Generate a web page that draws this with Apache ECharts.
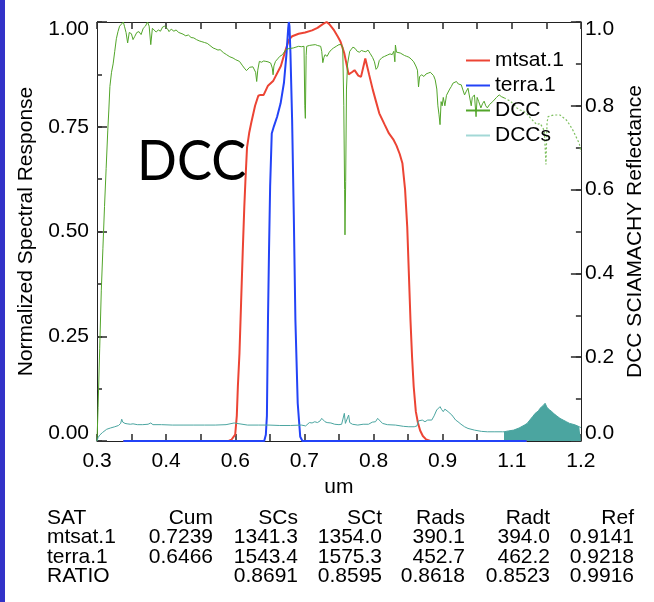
<!DOCTYPE html>
<html>
<head>
<meta charset="utf-8">
<script src="https://cdn.jsdelivr.net/npm/echarts@6.0.0/dist/echarts.min.js"></script>
<style>
html,body{margin:0;padding:0;background:#fff;}
#chart{width:654px;height:602px;}
</style>
</head>
<body>
<div id="chart"></div>
<script>
// ---------- DATA ----------
const seriesNames = ['mtsat.1', 'terra.1', 'DCC', 'DCCs'];

// x tick positions (um): 14 equal steps from 0.3 to 1.2; labels every other tick
const xTickValues = [0.3, 0.364286, 0.428571, 0.492857, 0.557143, 0.621429, 0.685714,
  0.75, 0.814286, 0.878571, 0.942857, 1.007143, 1.071429, 1.135714, 1.2];
const xLabelValues = [0.3, 0.428571, 0.557143, 0.685714, 0.814286, 0.942857, 1.071429, 1.2];
const leftTickValues = [0, 0.125, 0.25, 0.375, 0.5, 0.625, 0.75, 0.875, 1.0];
const leftLabelValues = [0, 0.25, 0.5, 0.75, 1.0];
const rightTickValues = [0, 0.1, 0.2, 0.3, 0.4, 0.5, 0.6, 0.7, 0.8, 0.9, 1.0];
const rightLabelValues = [0, 0.2, 0.4, 0.6, 0.8, 1.0];

const mtsatData = [
  [0.349,0],[0.545,0],[0.550,0.003],[0.553,0.006],[0.557,0.015],[0.560,0.06],[0.562,0.13],
  [0.565,0.21],[0.568,0.33],[0.571,0.45],[0.574,0.56],[0.576,0.62],[0.579,0.70],[0.583,0.735],
  [0.587,0.76],[0.594,0.80],[0.600,0.824],[0.604,0.826],[0.610,0.826],[0.618,0.848],[0.628,0.86],
  [0.642,0.895],[0.650,0.93],[0.657,0.958],[0.663,0.966],[0.675,0.972],[0.687,0.975],[0.700,0.98],
  [0.710,0.986],[0.720,0.995],[0.727,1.0],[0.732,0.995],[0.740,0.982],[0.748,0.965],[0.753,0.953],
  [0.760,0.925],[0.764,0.90],[0.768,0.875],[0.774,0.88],[0.779,0.885],[0.786,0.872],[0.791,0.869],
  [0.799,0.913],[0.806,0.875],[0.813,0.838],[0.819,0.81],[0.825,0.782],[0.835,0.755],[0.843,0.734],
  [0.851,0.72],[0.857,0.705],[0.863,0.685],[0.868,0.663],[0.873,0.60],[0.877,0.511],[0.880,0.40],
  [0.883,0.289],[0.886,0.20],[0.889,0.13],[0.893,0.07],[0.897,0.043],[0.901,0.025],[0.906,0.012],
  [0.912,0.004],[0.920,0],[1.099,0]
];

const terraData = [
  [0.349,0],[0.600,0],[0.611,0],[0.614,0.015],[0.616,0.06],[0.618,0.29],[0.620,0.46],[0.622,0.607],
  [0.625,0.734],[0.629,0.751],[0.635,0.774],[0.6415,0.806],[0.6477,0.855],[0.6525,0.925],
  [0.6556,0.985],[0.6568,1.0],[0.658,0.99],[0.6598,0.925],[0.6629,0.766],[0.666,0.54],
  [0.669,0.289],[0.6733,0.09],[0.678,0.01],[0.682,0],[1.099,0]
];

const dccData = [
  [0.300,0.00],[0.302,0.08],[0.305,0.22],[0.308,0.36],[0.311,0.46],[0.314,0.56],[0.317,0.65],
  [0.320,0.74],[0.322,0.79],[0.324,0.846],[0.327,0.88],[0.330,0.90],[0.333,0.93],[0.336,0.96],
  [0.339,0.977],[0.342,0.99],[0.345,0.993],[0.349,1.0],[0.351,0.99],[0.354,0.975],[0.357,0.95],
  [0.360,0.975],[0.364,0.972],[0.367,0.958],[0.370,0.965],[0.374,0.975],[0.378,0.977],[0.382,0.97],
  [0.386,0.985],[0.390,0.99],[0.394,1.0],[0.397,0.99],[0.400,0.946],[0.403,0.985],[0.406,0.982],
  [0.410,0.976],[0.414,0.981],[0.418,0.978],[0.422,0.988],[0.426,0.99],[0.428,0.993],[0.431,0.984],
  [0.434,0.977],[0.438,0.983],[0.443,0.978],[0.447,0.981],[0.452,0.975],[0.455,0.973],[0.460,0.971],
  [0.465,0.967],[0.470,0.969],[0.475,0.963],[0.480,0.962],[0.485,0.958],[0.490,0.955],[0.495,0.953],
  [0.500,0.951],[0.505,0.949],[0.510,0.944],[0.516,0.938],[0.520,0.936],[0.525,0.933],[0.529,0.934],
  [0.535,0.927],[0.541,0.922],[0.547,0.917],[0.553,0.914],[0.558,0.910],[0.565,0.906],[0.570,0.897],
  [0.574,0.89],[0.578,0.884],[0.581,0.882],[0.584,0.892],[0.587,0.894],[0.590,0.893],[0.593,0.89],
  [0.595,0.88],[0.597,0.858],[0.599,0.885],[0.602,0.906],[0.606,0.904],[0.610,0.907],[0.614,0.906],
  [0.618,0.905],[0.623,0.902],[0.626,0.89],[0.6275,0.874],[0.629,0.895],[0.632,0.906],[0.636,0.912],
  [0.640,0.918],[0.645,0.922],[0.650,0.932],[0.655,0.936],[0.660,0.937],[0.665,0.938],[0.670,0.940],
  [0.675,0.942],[0.680,0.941],[0.685,0.942],[0.6865,0.80],[0.6875,0.770],[0.689,0.92],[0.690,0.942],
  [0.695,0.944],[0.700,0.945],[0.706,0.946],[0.710,0.944],[0.716,0.942],[0.718,0.93],[0.720,0.903],
  [0.722,0.915],[0.724,0.922],[0.728,0.918],[0.732,0.928],[0.736,0.934],[0.740,0.938],[0.745,0.942],
  [0.750,0.946],[0.754,0.946],[0.757,0.94],[0.759,0.80],[0.7605,0.60],[0.7612,0.492],[0.7625,0.62],
  [0.764,0.84],[0.766,0.90],[0.770,0.930],[0.773,0.935],[0.776,0.940],[0.780,0.937],[0.784,0.93],
  [0.788,0.928],[0.792,0.932],[0.796,0.93],[0.800,0.929],[0.804,0.933],[0.808,0.925],[0.8127,0.915],
  [0.816,0.905],[0.819,0.887],[0.822,0.892],[0.825,0.908],[0.830,0.915],[0.835,0.918],[0.840,0.921],
  [0.845,0.924],[0.849,0.922],[0.852,0.93],[0.854,0.905],[0.855,0.945],[0.857,0.928],[0.860,0.93],
  [0.864,0.926],[0.8676,0.922],[0.872,0.92],[0.876,0.918],[0.880,0.916],[0.884,0.912],[0.889,0.905],
  [0.893,0.895],[0.896,0.885],[0.898,0.845],[0.900,0.87],[0.904,0.874],[0.908,0.87],[0.912,0.876],
  [0.916,0.878],[0.920,0.88],[0.923,0.882],[0.926,0.872],[0.929,0.862],[0.932,0.84],[0.934,0.80],
  [0.936,0.78],[0.938,0.755],[0.940,0.81],[0.942,0.80],[0.944,0.82],[0.947,0.80],[0.950,0.825],
  [0.953,0.826],[0.956,0.84],[0.959,0.846],[0.962,0.854],[0.965,0.85],[0.9685,0.858],[0.972,0.852],
  [0.975,0.848],[0.9775,0.85],[0.980,0.84],[0.9836,0.826],[0.987,0.835],[0.990,0.842],[0.993,0.838],
  [0.996,0.80],[0.998,0.82],[1.002,0.826],[1.005,0.774],[1.007,0.82],[1.010,0.81],[1.014,0.795],
  [1.017,0.805],[1.020,0.811],[1.023,0.80],[1.026,0.795],[1.030,0.803],[1.033,0.807],[1.036,0.81],
  [1.039,0.811],[1.043,0.82],[1.048,0.826],[1.052,0.822],[1.057,0.819]
];

const dccTailData = [
  [1.057,0.819],[1.063,0.815],[1.069,0.811],[1.075,0.803],[1.081,0.795],[1.087,0.79],[1.094,0.787],
  [1.100,0.78],[1.106,0.771],[1.112,0.763],[1.118,0.755],[1.124,0.758],[1.128,0.75],[1.132,0.74],
  [1.135,0.66],[1.137,0.76],[1.139,0.774],[1.144,0.776],[1.149,0.778],[1.155,0.778],[1.161,0.778],
  [1.167,0.772],[1.173,0.766],[1.179,0.755],[1.185,0.742],[1.191,0.726],[1.197,0.71],[1.200,0.69]
];

const dccsData = [
  [0.300,0.0],[0.302,0.008],[0.305,0.014],[0.310,0.020],[0.318,0.028],[0.325,0.031],[0.333,0.034],
  [0.340,0.037],[0.344,0.042],[0.346,0.052],[0.348,0.045],[0.352,0.042],[0.356,0.041],[0.362,0.04],
  [0.367,0.041],[0.375,0.039],[0.385,0.039],[0.395,0.040],[0.400,0.043],[0.404,0.039],[0.42,0.039],
  [0.44,0.038],[0.46,0.038],[0.48,0.038],[0.50,0.038],[0.52,0.038],[0.54,0.039],[0.555,0.043],
  [0.558,0.039],[0.58,0.038],[0.60,0.038],[0.62,0.038],[0.64,0.037],[0.66,0.037],[0.68,0.038],
  [0.688,0.036],[0.690,0.040],[0.695,0.044],[0.700,0.043],[0.705,0.046],[0.710,0.044],[0.715,0.048],
  [0.718,0.054],[0.721,0.055],[0.724,0.046],[0.728,0.044],[0.735,0.043],[0.742,0.040],[0.750,0.039],
  [0.755,0.040],[0.758,0.043],[0.760,0.066],[0.762,0.042],[0.765,0.045],[0.768,0.062],[0.770,0.044],
  [0.775,0.040],[0.785,0.038],[0.795,0.040],[0.805,0.040],[0.812,0.045],[0.818,0.046],[0.822,0.054],
  [0.825,0.050],[0.831,0.042],[0.840,0.039],[0.855,0.038],[0.870,0.035],[0.880,0.034],[0.890,0.034],
  [0.895,0.036],[0.898,0.048],[0.901,0.046],[0.905,0.05],[0.910,0.046],[0.915,0.05],[0.9226,0.050],
  [0.927,0.06],[0.9318,0.074],[0.935,0.07],[0.938,0.082],[0.941,0.075],[0.944,0.070],[0.947,0.076],
  [0.950,0.074],[0.953,0.07],[0.956,0.066],[0.960,0.062],[0.962,0.058],[0.967,0.05],[0.9714,0.046],
  [0.977,0.04],[0.9836,0.034],[0.990,0.030],[1.002,0.026],[1.015,0.023],[1.026,0.022],[1.040,0.022],
  [1.054,0.022],[1.057,0.022]
];

const dccsTailData = [
  [1.057,0.022],[1.065,0.024],[1.075,0.026],[1.085,0.031],[1.095,0.038],[1.100,0.042],[1.105,0.05],
  [1.110,0.058],[1.115,0.066],[1.118,0.070],[1.121,0.072],[1.124,0.078],[1.127,0.08],[1.130,0.085],
  [1.1334,0.09],[1.135,0.094],[1.137,0.08],[1.140,0.078],[1.142,0.074],[1.146,0.07],[1.150,0.065],
  [1.155,0.06],[1.161,0.054],[1.167,0.05],[1.173,0.046],[1.179,0.042],[1.185,0.04],[1.190,0.038],
  [1.197,0.034],[1.200,0.032]
];

const tableHeader = ['SAT', 'Cum', 'SCs', 'SCt', 'Rads', 'Radt', 'Ref'];
const tableRows = [
  ['mtsat.1', '0.7239', '1341.3', '1354.0', '390.1', '394.0', '0.9141'],
  ['terra.1', '0.6466', '1543.4', '1575.3', '452.7', '462.2', '0.9218'],
  ['RATIO', '', '0.8691', '0.8595', '0.8618', '0.8523', '0.9916']
];
const panelLabel = 'DCC';

// ---------- LAYOUT / STYLE ----------
const FONT = '"Liberation Sans", Arial, Helvetica, sans-serif';
const FS = 21;
const AX = '#222';
const TK = '#333';
const TKW = 1.6;
const C_RED = '#ec4434', C_BLUE = '#2343f7', C_GREEN = '#52a52a', C_TEAL = '#4ba5a0';

const chart = echarts.init(document.getElementById('chart'), null, {renderer: 'canvas'});

const colRight = [null, 213, 298, 382, 465, 550, 634];
const rowY = [518, 537.5, 557, 576.5];
const tableGraphics = [];
[tableHeader].concat(tableRows).forEach((row, r) => {
  row.forEach((txt, c) => {
    if (!txt) return;
    tableGraphics.push({
      type: 'text',
      x: c === 0 ? 47 : colRight[c],
      y: rowY[r],
      style: {
        text: txt, font: FS + 'px ' + FONT, fill: '#000',
        textAlign: c === 0 ? 'left' : 'right', align: c === 0 ? 'left' : 'right',
        textVerticalAlign: 'middle', verticalAlign: 'middle'
      }
    });
  });
});

const labelText = {fontSize: FS, fontFamily: FONT, color: '#000'};

function xAxisCfg(pos) {
  return {
    type: 'value', min: 0.3, max: 1.2, position: pos,
    axisLine: {show: true, onZero: false, lineStyle: {color: AX, width: 1}},
    axisTick: {show: true, inside: true, length: 7, customValues: xTickValues, lineStyle: {color: TK, width: TKW}},
    axisLabel: pos === 'bottom' ? {
      show: true, customValues: xLabelValues, formatter: v => v.toFixed(1),
      margin: 10, fontSize: FS, fontFamily: FONT, color: '#000'
    } : {show: false},
    splitLine: {show: false},
    name: pos === 'bottom' ? 'um' : '',
    nameLocation: 'middle', nameGap: 35,
    nameTextStyle: labelText
  };
}

function yAxisCfg(pos, name, labelVals, decimals, gap, margin) {
  return {
    type: 'value', min: 0, max: 1, position: pos,
    name: name, nameLocation: 'middle', nameGap: gap, nameRotate: 90,
    nameTextStyle: labelText,
    axisLine: {show: true, onZero: false, lineStyle: {color: AX, width: 1}},
    axisTick: {show: true, inside: true, length: 10, customValues: labelVals, lineStyle: {color: TK, width: TKW}},
    axisLabel: {
      customValues: labelVals, margin: margin, fontSize: FS, fontFamily: FONT, color: '#000',
      // end labels are pushed inside the frame, as in the original
      formatter: v => v <= 0 ? '{lo|' + v.toFixed(decimals) + '}'
        : v >= 1 ? '{hi|' + v.toFixed(decimals) + '}' : v.toFixed(decimals),
      rich: {
        lo: Object.assign({padding: [0, 0, 16, 0]}, labelText),
        hi: Object.assign({padding: [14, 0, 0, 0]}, labelText)
      }
    },
    splitLine: {show: false}
  };
}

function minorTickAxis(pos, vals) {
  // overlay axis that only carries the short minor ticks
  return {
    type: 'value', min: 0, max: 1, position: pos,
    axisLine: {show: false, onZero: false},
    axisTick: {show: true, inside: true, length: 5, customValues: vals, lineStyle: {color: TK, width: TKW}},
    axisLabel: {show: false},
    splitLine: {show: false}
  };
}

const option = {
  animation: false,
  backgroundColor: '#fff',
  grid: {left: 97, right: 66, top: 22, bottom: 161, containLabel: false},
  xAxis: [xAxisCfg('bottom'), xAxisCfg('top')],
  yAxis: [
    yAxisCfg('left', 'Normalized Spectral Response', leftLabelValues, 2, 60, 8),
    yAxisCfg('right', 'DCC SCIAMACHY Reflectance', rightLabelValues, 1, 38, 4),
    minorTickAxis('left', leftTickValues),
    minorTickAxis('right', rightTickValues)
  ],
  legend: {
    orient: 'vertical', left: 466, top: 50, padding: 0,
    icon: 'rect', itemWidth: 24, itemHeight: 2, itemGap: 4, selectedMode: false,
    textStyle: {fontSize: FS, fontFamily: FONT, color: '#000', lineHeight: 21},
    data: [
      {name: seriesNames[0]},
      {name: seriesNames[1]},
      {name: seriesNames[2]},
      {name: seriesNames[3], itemStyle: {color: '#a3d8d6'}}
    ]
  },
  series: [
    {name: seriesNames[3], type: 'line', data: dccsTailData, yAxisIndex: 1, symbol: 'none',
      lineStyle: {color: C_TEAL, width: 1}, itemStyle: {color: C_TEAL},
      areaStyle: {color: C_TEAL, opacity: 1, origin: 'start'}},
    {name: seriesNames[0], type: 'line', data: mtsatData, symbol: 'none',
      lineStyle: {color: C_RED, width: 2}, itemStyle: {color: C_RED}},
    {name: seriesNames[1], type: 'line', data: terraData, symbol: 'none',
      lineStyle: {color: C_BLUE, width: 2}, itemStyle: {color: C_BLUE}},
    {name: seriesNames[2], type: 'line', data: dccData, yAxisIndex: 1, symbol: 'none',
      lineStyle: {color: C_GREEN, width: 1}, itemStyle: {color: C_GREEN}},
    {name: seriesNames[2], type: 'line', data: dccTailData, yAxisIndex: 1, symbol: 'none',
      lineStyle: {color: '#7fc060', width: 1.2, type: [2, 2]}, itemStyle: {color: C_GREEN}},
    {name: seriesNames[3], type: 'line', data: dccsData, yAxisIndex: 1, symbol: 'none',
      lineStyle: {color: C_TEAL, width: 1}, itemStyle: {color: C_TEAL}}
  ],
  graphic: [
    {type: 'rect', left: 0, top: 0, shape: {x: 0, y: 0, width: 5, height: 602}, style: {fill: '#3232c8'}, z: 100},
    {type: 'text', x: 137, y: 162, scaleX: 0.92, z: 100,
      style: {text: panelLabel, font: '57px Lato, "Open Sans", sans-serif', fill: '#000',
        textAlign: 'left', align: 'left', textVerticalAlign: 'middle', verticalAlign: 'middle'}}
  ].concat(tableGraphics)
};
chart.setOption(option);
</script>
</body>
</html>
